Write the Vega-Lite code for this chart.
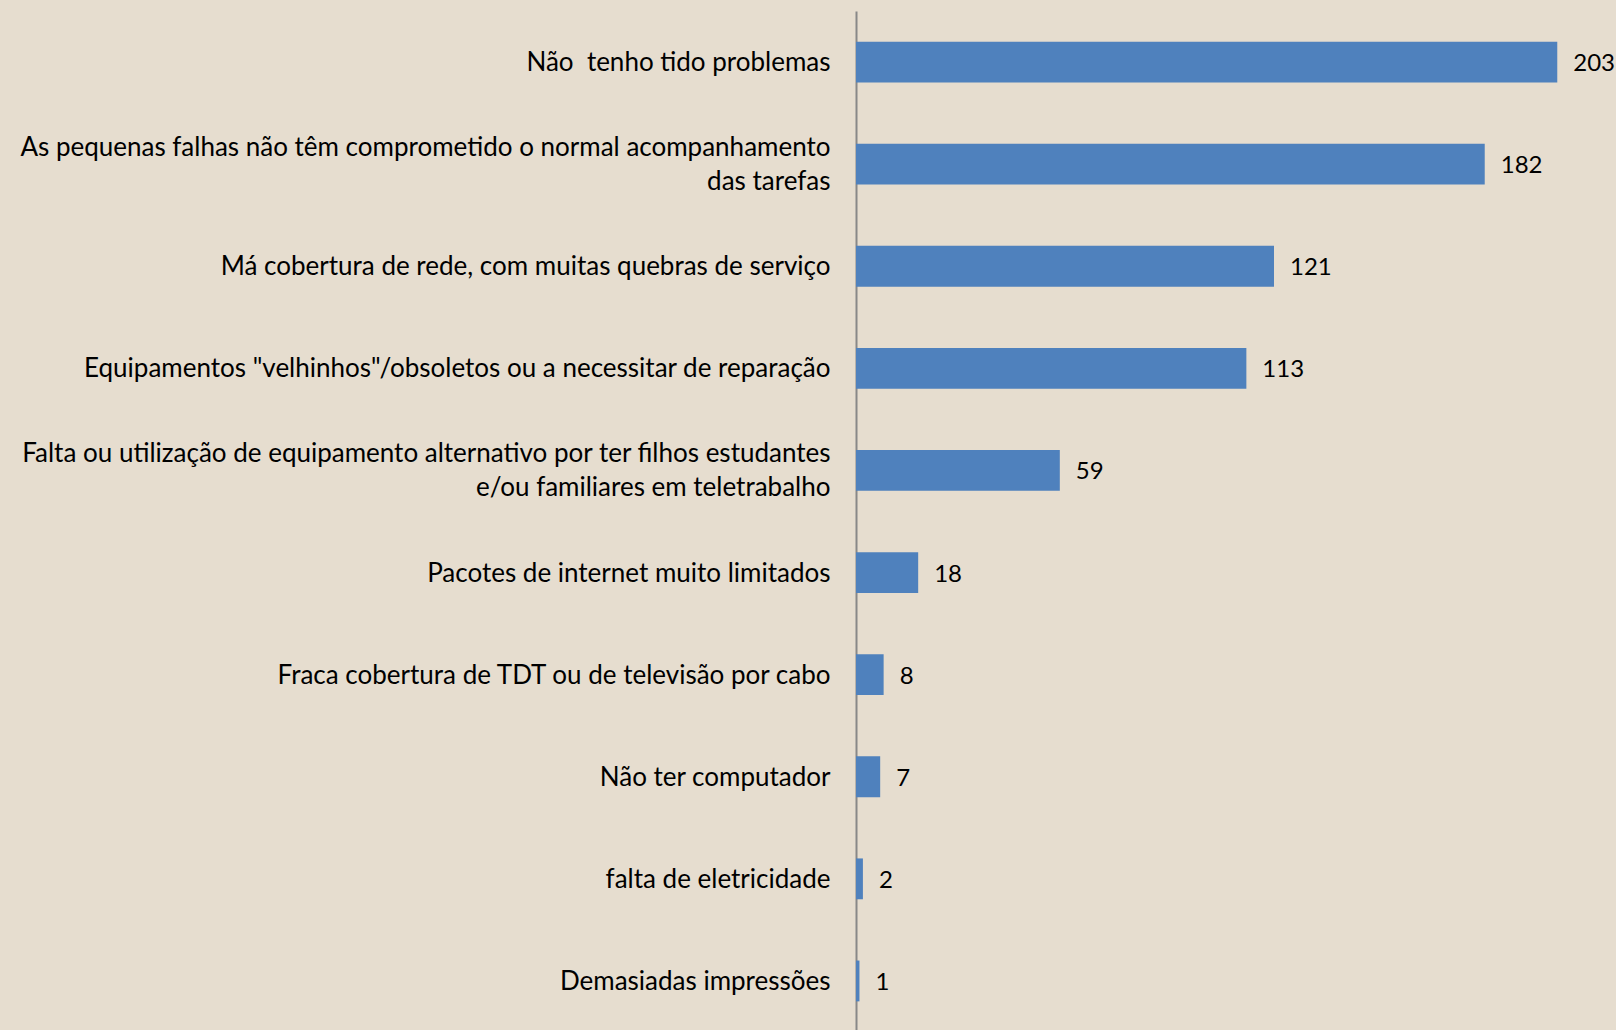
{
  "$schema": "https://vega.github.io/schema/vega-lite/v6.json",
  "autosize": "none",
  "padding": {"left": 856, "top": 11, "right": 0, "bottom": 0},
  "width": 760,
  "height": 1021,
  "background": "#E6DDCF",
  "config": {"view": {"stroke": null}, "font": "Lato"},
  "data": {
    "values": [
      {"motivo": "Não\u00a0 tenho tido problemas", "n": 203},
      {"motivo": "As pequenas falhas não têm comprometido o normal acompanhamento\ndas tarefas", "n": 182},
      {"motivo": "Má cobertura de rede, com muitas quebras de serviço", "n": 121},
      {"motivo": "Equipamentos \"velhinhos\"/obsoletos ou a necessitar de reparação", "n": 113},
      {"motivo": "Falta ou utilização de equipamento alternativo por ter filhos estudantes\ne/ou familiares em teletrabalho", "n": 59},
      {"motivo": "Pacotes de internet muito limitados", "n": 18},
      {"motivo": "Fraca cobertura de TDT ou de televisão por cabo", "n": 8},
      {"motivo": "Não ter computador", "n": 7},
      {"motivo": "falta de eletricidade", "n": 2},
      {"motivo": "Demasiadas impressões", "n": 1}
    ]
  },
  "encoding": {
    "y": {
      "field": "motivo",
      "type": "nominal",
      "sort": null,
      "scale": {"paddingInner": 0.6, "paddingOuter": 0.3},
      "axis": {
        "title": null,
        "ticks": false,
        "domainColor": "#888888",
        "domainWidth": 2,
        "labelPadding": 26,
        "labelFontSize": 26,
        "labelColor": "#000000",
        "labelLimit": 0,
        "labelExpr": "split(datum.value, '\\n')",
        "labelLineHeight": 34,
        "labelOffset": {"condition": {"test": "indexof(datum.value, '\\n') >= 0", "value": -16}, "value": 1}
      }
    },
    "x": {
      "field": "n",
      "type": "quantitative",
      "scale": {"domain": [0, 220]},
      "axis": null
    }
  },
  "layer": [
    {"mark": {"type": "bar", "color": "#4F81BD"}},
    {
      "mark": {"type": "text", "align": "left", "baseline": "middle", "dx": 16, "dy": 2, "fontSize": 24, "color": "#000000"},
      "encoding": {"text": {"field": "n", "type": "quantitative"}}
    }
  ]
}
